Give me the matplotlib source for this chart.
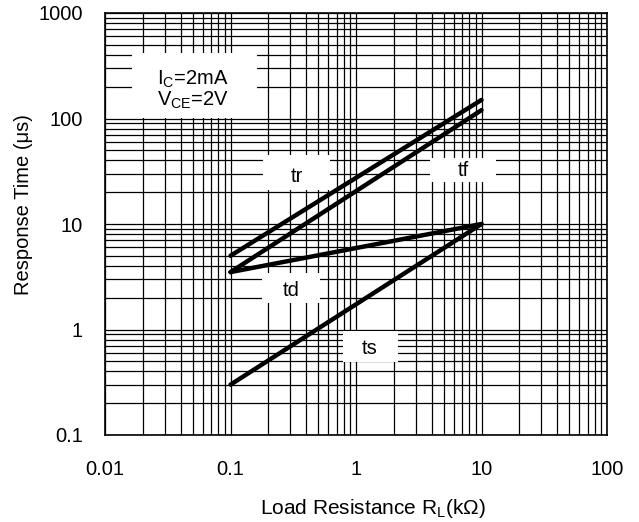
import matplotlib.pyplot as plt
from matplotlib.patches import Rectangle

plt.rcParams["font.family"] = ["Liberation Sans", "DejaVu Sans"]
plt.rcParams["mathtext.default"] = "regular"

# data
r_load = [0.1, 10]
t_r = [5.0, 150]
t_f = [3.5, 120]
t_d = [3.5, 10]
t_s = [0.3, 10]

curves = [t_r, t_f, t_d, t_s]

# label boxes: (x0, y0, x1, y1), text centre (x, y), in pixels of the original figure
labels = [
    ((132, 53, 257, 118), (193, 90), "I$_{C}$=2mA\nV$_{CE}$=2V"),
    ((263, 155, 330, 190), (297, 177), "tr"),
    ((430, 158, 496, 182), (463, 170), "tf"),
    ((262, 273, 320, 303), (291, 291), "td"),
    ((343, 331, 398, 362), (370, 349), "ts"),
]

W, H = 639, 522
AX_L, AX_T, AX_R, AX_B = 105, 13, 607, 435
FS = 14.5

fig = plt.figure(figsize=(W / 100, H / 100), dpi=100)
ax = fig.add_axes([AX_L / W, 1 - AX_B / H, (AX_R - AX_L) / W, (AX_B - AX_T) / H])

ax.set_xscale("log")
ax.set_yscale("log")
ax.set_xlim(0.01, 100)
ax.set_ylim(0.1, 1000)

ax.grid(True, which="both", color="black", linewidth=0.9)
ax.set_axisbelow(True)

for c in curves:
    ax.plot(r_load, c, color="black", linewidth=3.2, solid_capstyle="round", zorder=4)


def px2ax(px, py):
    return (px - AX_L) / (AX_R - AX_L), (AX_B - py) / (AX_B - AX_T)


for (x0, y0, x1, y1), (tx, ty), txt in labels:
    ax0, ay0 = px2ax(x0, y1)
    ax1, ay1 = px2ax(x1, y0)
    ax.add_patch(Rectangle((ax0, ay0), ax1 - ax0, ay1 - ay0, transform=ax.transAxes,
                           facecolor="white", edgecolor="none", zorder=3))
    ax.text(*px2ax(tx, ty), txt, transform=ax.transAxes,
            ha="center", va="center", fontsize=FS, zorder=5, linespacing=1.0)

ax.set_xticks([0.01, 0.1, 1, 10, 100])
ax.set_xticklabels(["0.01", "0.1", "1", "10", "100"])
ax.set_yticks([0.1, 1, 10, 100, 1000])
ax.set_yticklabels(["0.1", "1", "10", "100", "1000"])
ax.tick_params(axis="both", which="both", length=0, labelsize=FS)
ax.tick_params(axis="x", pad=18)
ax.tick_params(axis="y", pad=16)

ax.set_xlabel("Load Resistance R$_{L}$(kΩ)", fontsize=15)
ax.set_ylabel("Response Time (μs)", fontsize=FS)
ax.xaxis.set_label_coords(0.534, -0.147)
ax.yaxis.set_label_coords(-0.143, 0.547)

for s in ax.spines.values():
    s.set_linewidth(1.2)

fig.savefig("out.png", dpi=100)
